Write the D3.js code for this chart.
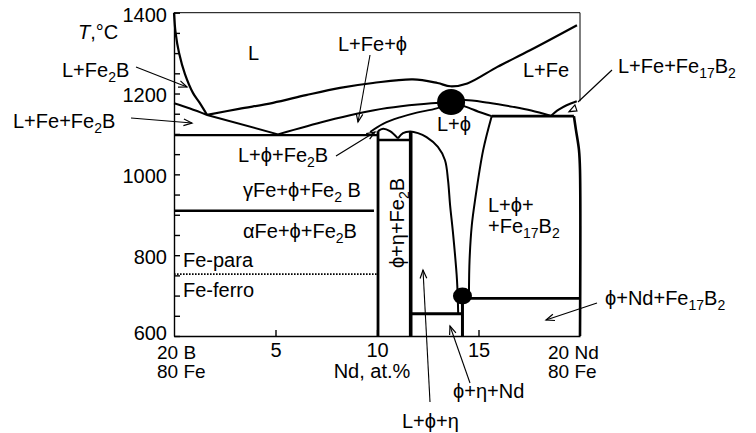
<!DOCTYPE html>
<html>
<head>
<meta charset="utf-8">
<script src="https://cdn.jsdelivr.net/npm/d3@7"></script>
<style>
  body { margin: 0; background: #fff; }
  svg text { font-family: "Liberation Sans", Arial, "DejaVu Sans", sans-serif; fill: #000; }
</style>
</head>
<body>
<svg id="chart" width="756" height="433"></svg>
<script>
// Fe–Nd–B isopleth, 80 at.% Fe, B replaced by Nd (x: Nd at.%, y: T °C)

const ndTicks = [5, 10, 15];
const tMajorTicks = [600, 800, 1000, 1200, 1400];
const tMinorTicks = d3.range(600, 1401, 50);

// Phase boundaries, [Nd at.%, T °C]
const fe2bLiquidus   = [[0,1400],[0.08,1350],[0.25,1300],[0.54,1248],[0.94,1201],[1.25,1178],[1.63,1147]];
const feFe2bBoundary = [[0,1176],[0.79,1163],[1.63,1147]];
const eutecticValley = [[1.63,1147],[5.12,1099]];
const upperLiquidus  = [[1.63,1147],[3.2,1162],[4.88,1177],[6.5,1196],[8.18,1214],[9.8,1226],[11.77,1235],[12.98,1226],[13.62,1218],[14.45,1225],[15.93,1266],[17.54,1307],[19.85,1369]];
const feLiquidusLow  = [[5.12,1099],[7.5,1132],[9.0,1150],[10.5,1164],[12.0,1173],[13.65,1179]];
const phiFe2bUpper   = [[9.66,1105],[10.3,1125],[11.13,1141],[11.96,1153],[12.94,1163],[13.65,1179]];
const eutecticLine   = [[0,1097],[10.05,1097]];
const gammaAlpha     = [[0,910],[9.85,910]];
const curieLine      = [[0,753],[10.0,753]];
const fe2bLeft       = [[10.05,600],[10.05,1107]];
const fe2bRight      = [[11.66,600],[11.66,1106]];
const fe2bTop        = [[10.05,1085],[11.66,1085]];
const fe2bHump       = [[10.05,1107],[10.3,1113],[10.64,1107],[11.03,1089]];
const phiLeftBoundary = [[11.03,1089],[11.28,1102],[11.63,1106],[12.02,1102],[12.44,1092],[13.0,1068],[13.35,1035],[13.5,985],[13.6,924],[13.74,857],[13.94,739],[14.0,654]];
const peritecticArc  = [[13.65,1179],[14.3,1184],[15.5,1177],[16.7,1167],[17.6,1158],[18.55,1145]];
const fe17Bump       = [[18.55,1144],[18.95,1160],[19.34,1171],[19.84,1181]];
const dotToPeritectic = [[13.65,1179],[14.5,1165],[15.0,1155],[15.65,1144]];
const peritecticLine = [[15.65,1144],[19.7,1144]];
const fe17LeftBoundary = [[15.65,1144],[15.23,1060],[14.83,936],[14.67,874],[14.56,788],[14.53,706]];
const fe17RightBoundary = [[19.7,1144],[19.8,1110],[19.95,1060],[20,1011],[20,600]];
const ndEutecticLine = [[14.21,693],[20,693]];
const etaLine        = [[11.66,655],[14.21,655]];
const etaVertical    = [[14.21,600],[14.21,699]];
const fe17Triangle   = [[19.46,1155],[19.75,1172],[19.85,1157]];

// Invariant points
const invariantPoints = [
  { nd: 13.65, t: 1179, size: "large" },
  { nd: 14.21, t: 699,  size: "small" }
];

const FS = 20, SUB = 14;
const svg = d3.select("#chart");
const x = d3.scaleLinear().domain([0, 20]).range([174, 580]);
const y = d3.scaleLinear().domain([600, 1400]).range([336, 12.7]);

const smooth = d3.line().x(d => x(d[0])).y(d => y(d[1])).curve(d3.curveCatmullRom.alpha(0.5));
const straight = d3.line().x(d => x(d[0])).y(d => y(d[1]));

// frame: thin top and right edges
svg.append("path").attr("d", straight([[0,1400],[20,1400],[20,1181]]))
  .attr("fill", "none").attr("stroke", "#000").attr("stroke-width", 1);

const boundaries = [
  { pts: fe2bLiquidus, w: 2.2, c: true },
  { pts: feFe2bBoundary, w: 2, c: true },
  { pts: eutecticValley, w: 2, c: false },
  { pts: upperLiquidus, w: 2.2, c: true },
  { pts: feLiquidusLow, w: 2, c: true },
  { pts: phiFe2bUpper, w: 1.8, c: true },
  { pts: eutecticLine, w: 2.4, c: false },
  { pts: gammaAlpha, w: 2.4, c: false },
  { pts: fe2bLeft, w: 2.8, c: false },
  { pts: fe2bRight, w: 3.6, c: false },
  { pts: fe2bTop, w: 2.6, c: false },
  { pts: fe2bHump, w: 2, c: true },
  { pts: phiLeftBoundary, w: 2, c: true },
  { pts: peritecticArc, w: 2, c: true },
  { pts: fe17Bump, w: 2, c: true },
  { pts: dotToPeritectic, w: 2, c: true },
  { pts: peritecticLine, w: 2.8, c: false },
  { pts: fe17LeftBoundary, w: 2, c: true },
  { pts: fe17RightBoundary, w: 2.6, c: true },
  { pts: ndEutecticLine, w: 2.6, c: false },
  { pts: etaLine, w: 3, c: false },
  { pts: etaVertical, w: 3, c: false }
];

svg.append("g").selectAll("path").data(boundaries).join("path")
  .attr("d", d => (d.c ? smooth : straight)(d.pts))
  .attr("fill", "none").attr("stroke", "#000")
  .attr("stroke-width", d => d.w)
  .attr("stroke-linejoin", "round");

// Curie temperature (magnetic transition) shown dotted
svg.append("path").attr("d", straight(curieLine))
  .attr("fill", "none").attr("stroke", "#000").attr("stroke-width", 1.6)
  .attr("stroke-dasharray", "1.6 1.4");

svg.append("path").attr("d", straight(fe17Triangle) + "Z")
  .attr("fill", "none").attr("stroke", "#000").attr("stroke-width", 1.2);

svg.append("g").selectAll("ellipse").data(invariantPoints).join("ellipse")
  .attr("cx", d => x(d.nd)).attr("cy", d => y(d.t))
  .attr("rx", d => d.size === "large" ? 14 : 9.5)
  .attr("ry", d => d.size === "large" ? 13 : 8.5)
  .attr("fill", "#000");

// Axes
const yMinor = svg.append("g").attr("transform", `translate(${x(0)},0)`)
  .call(d3.axisLeft(y).tickValues(tMinorTicks).tickSizeInner(-6).tickSizeOuter(0).tickFormat(""));
yMinor.select(".domain").attr("stroke-width", 1.4);
yMinor.selectAll(".tick line").attr("stroke-width", 1.4);
yMinor.selectAll("text").remove();

const yLabels = svg.append("g").attr("transform", `translate(${x(0)},0)`)
  .call(d3.axisLeft(y).tickValues(tMajorTicks).tickFormat(d3.format("d")).tickSize(0).tickPadding(7));
yLabels.select(".domain").remove();
yLabels.selectAll("text").attr("font-size", FS)
  .attr("transform", d => d === 600 ? "translate(0,-3)" : "translate(0,2)");

const xAxis = svg.append("g").attr("transform", `translate(0,${y(600)})`)
  .call(d3.axisBottom(x).tickValues(ndTicks).tickFormat(d3.format("d")).tickSizeInner(-6).tickSizeOuter(0).tickPadding(7));
xAxis.select(".domain").attr("stroke-width", 1.4);
xAxis.selectAll(".tick line").attr("stroke-width", 1.4);
xAxis.selectAll("text").attr("font-size", FS);

// Text with _{...} subscripts
function label(g, str, px, py, opts = {}) {
  const size = opts.size || FS;
  const t = g.append("text").attr("x", px).attr("y", py)
    .attr("font-size", size)
    .attr("text-anchor", opts.anchor || "start");
  const parts = str.split(/_\{([^}]*)\}/);
  let shifted = false;
  parts.forEach((p, i) => {
    if (!p) return;
    const s = t.append("tspan").text(p);
    if (i % 2 === 1) {
      s.attr("font-size", SUB).attr("dy", 5);
      shifted = true;
    } else {
      s.attr("font-size", size);
      if (shifted) { s.attr("dy", -5); shifted = false; }
    }
  });
  return t;
}

const ann = svg.append("g");
const T = ann.append("text").attr("x", 78).attr("y", 39).attr("font-size", FS);
T.append("tspan").attr("font-size", FS).attr("font-style", "italic").text("T");
T.append("tspan").attr("font-size", FS).text(",°C");

// composition end-points of the section
label(ann, "20 B", 157, 359, { size: 19 });
label(ann, "80 Fe", 157, 378, { size: 19 });
label(ann, "20 Nd", 548, 359, { size: 19 });
label(ann, "80 Fe", 548, 378, { size: 19 });
label(ann, "Nd, at.%", 372, 378, { anchor: "middle" });

label(ann, "L+Fe_{2}B", 62, 77);
label(ann, "L+Fe+Fe_{2}B", 13, 128);
label(ann, "L", 248, 60);
label(ann, "L+Fe+\u03D5", 338, 51);
label(ann, "L+Fe", 523, 77);
label(ann, "L+Fe+Fe_{17}B_{2}", 618, 73);
label(ann, "L+\u03D5", 437, 131);
label(ann, "L+\u03D5+Fe_{2}B", 238, 162);
label(ann, "\u03B3Fe+\u03D5+Fe_{2} B", 243, 197);
label(ann, "\u03B1Fe+\u03D5+Fe_{2}B", 243, 238);
label(ann, "Fe-para", 183, 267);
label(ann, "Fe-ferro", 183, 297);
label(ann, "L+\u03D5+", 488, 212);
label(ann, "+Fe_{17}B_{2}", 488, 233);
label(ann, "\u03D5+Nd+Fe_{17}B_{2}", 605, 305);
label(ann, "\u03D5+\u03B7+Nd", 453, 398);
label(ann, "L+\u03D5+\u03B7", 402, 428);

const rot = ann.append("g").attr("transform", "translate(404,223) rotate(-90)");
label(rot, "\u03D5+\u03B7+Fe_{2}B", 0, 0, { anchor: "middle" });

// Pointer arrows
function arrow(x1, y1, x2, y2, head = true) {
  ann.append("line").attr("x1", x1).attr("y1", y1).attr("x2", x2).attr("y2", y2)
    .attr("stroke", "#000").attr("stroke-width", 1.1);
  if (!head) return;
  const a = Math.atan2(y2 - y1, x2 - x1), L = 9, s = 0.38;
  const p = [[x2 - L * Math.cos(a - s), y2 - L * Math.sin(a - s)], [x2, y2],
             [x2 - L * Math.cos(a + s), y2 - L * Math.sin(a + s)]];
  ann.append("path").attr("d", d3.line()(p)).attr("fill", "none")
    .attr("stroke", "#000").attr("stroke-width", 1.2);
}
arrow(136, 67, 187, 87);
arrow(131, 118, 192, 123);
arrow(370, 55, 358, 122);
arrow(336, 156, 375, 132);
arrow(612, 70, 578, 102, false);
arrow(597, 303, 546, 320);
arrow(470, 383, 450, 326);
arrow(430, 402, 423, 270);
</script>
</body>
</html>
